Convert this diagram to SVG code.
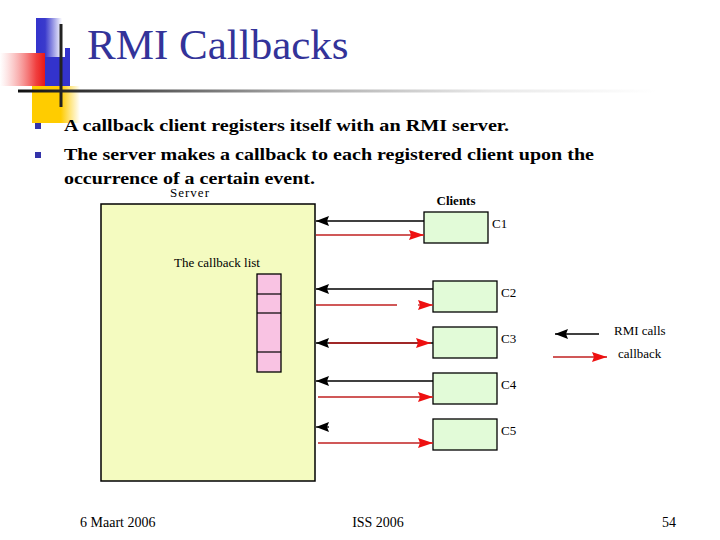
<svg xmlns="http://www.w3.org/2000/svg" width="720" height="540" viewBox="0 0 720 540">
<style>
.ser{font-family:"Liberation Serif","Times New Roman",serif;}
.title{font-size:43px;fill:#333399;}
.bul{font-size:17px;font-weight:bold;fill:#000;}
.lbl{font-size:13px;fill:#000;}
.foot{font-size:14px;fill:#000;}
.blk{stroke:#000;stroke-width:1.3;fill:none;}
.red{stroke:#c02020;stroke-width:1.3;fill:none;}
.client{fill:#E2FBD8;stroke:#000;stroke-width:1.3;}
</style>
<defs>
<linearGradient id="gBlue" x1="0" y1="0" x2="1" y2="0"><stop offset="0" stop-color="#3333cc"/><stop offset="0.35" stop-color="#3a3acc"/><stop offset="1" stop-color="#ffffff"/></linearGradient>
<linearGradient id="gRed" x1="0" y1="0" x2="1" y2="0"><stop offset="0" stop-color="#ffffff" stop-opacity="0.6"/><stop offset="0.8" stop-color="#f04040"/><stop offset="1" stop-color="#e81818"/></linearGradient>
<linearGradient id="gYel" x1="0" y1="0" x2="1" y2="0"><stop offset="0" stop-color="#ffcc00"/><stop offset="0.6" stop-color="#ffcc00"/><stop offset="1" stop-color="#ffffff"/></linearGradient>
<linearGradient id="gLine" gradientUnits="userSpaceOnUse" x1="18" y1="0" x2="690" y2="0"><stop offset="0" stop-color="#111"/><stop offset="0.15" stop-color="#444"/><stop offset="0.42" stop-color="#aaa"/><stop offset="0.7" stop-color="#e8e8e8"/><stop offset="0.95" stop-color="#fff"/></linearGradient>
<marker id="ahB" markerUnits="userSpaceOnUse" markerWidth="14" markerHeight="10" refX="13" refY="5" orient="auto"><path d="M0,0 L13,5 L0,10 L2,5 z" fill="#000"/></marker>
<marker id="ahR" markerUnits="userSpaceOnUse" markerWidth="16" markerHeight="10" refX="15" refY="5" orient="auto"><path d="M0,0 L15,5 L0,10 L2,5 z" fill="#ee1010"/></marker>
</defs>

<g id="decoration">
<rect x="36" y="18" width="26" height="39" fill="url(#gBlue)"/>
<rect x="45" y="57" width="25" height="29" fill="#3333cc"/>
<rect x="65" y="48" width="5" height="9" fill="#3333cc"/>
<rect x="0" y="53" width="45" height="33" fill="url(#gRed)"/>
<rect x="32" y="86" width="48" height="37" fill="url(#gYel)"/>
<line x1="61" y1="24" x2="61" y2="107" stroke="#222" stroke-width="3"/>
<line x1="18" y1="91" x2="690" y2="91" stroke="url(#gLine)" stroke-width="3"/>
</g>

<text id="title" class="ser title" x="87" y="59">RMI Callbacks</text>

<g id="bullets">
<rect x="35" y="123" width="6" height="6" fill="#3333aa"/>
<rect x="35" y="152" width="6" height="6" fill="#3333aa"/>
<text class="ser bul" x="64" y="131" textLength="445" lengthAdjust="spacingAndGlyphs">A callback client registers itself with an RMI server.</text>
<text class="ser bul" x="64" y="160" textLength="530" lengthAdjust="spacingAndGlyphs">The server makes a callback to each registered client upon the</text>
<text class="ser bul" x="64" y="184" textLength="251" lengthAdjust="spacingAndGlyphs">occurrence of a certain event.</text>
</g>

<g id="server">
<text class="ser lbl" x="190" y="197" text-anchor="middle" letter-spacing="1">Server</text>
<rect x="101" y="204" width="214" height="277" fill="#F4FBC0" stroke="#000" stroke-width="1.5"/>
<text class="ser lbl" x="217" y="267" text-anchor="middle">The callback list</text>
</g>

<g id="callback-list">
<rect x="257" y="274" width="24" height="98" fill="#F9C3E3" stroke="#000" stroke-width="1.3"/>
<line x1="257" y1="294" x2="281" y2="294" stroke="#000" stroke-width="1.2"/>
<line x1="257" y1="313" x2="281" y2="313" stroke="#000" stroke-width="1.2"/>
<line x1="257" y1="352" x2="281" y2="352" stroke="#000" stroke-width="1.2"/>
</g>

<text id="clients-label" class="ser lbl" x="456" y="205" text-anchor="middle" font-weight="bold">Clients</text>

<g id="c1"><rect class="client" x="424" y="212" width="64" height="31"/><text class="ser lbl" x="492" y="228">C1</text></g>
<g id="c2"><rect class="client" x="433" y="281" width="64" height="31"/><text class="ser lbl" x="501" y="297">C2</text></g>
<g id="c3"><rect class="client" x="433" y="327" width="64" height="31"/><text class="ser lbl" x="501" y="343">C3</text></g>
<g id="c4"><rect class="client" x="433" y="373" width="64" height="31"/><text class="ser lbl" x="501" y="389">C4</text></g>
<g id="c5"><rect class="client" x="433" y="419" width="64" height="31"/><text class="ser lbl" x="501" y="435">C5</text></g>

<g id="connectors">
<line class="blk" x1="424" y1="221" x2="316" y2="221" marker-end="url(#ahB)"/>
<line class="red" x1="316" y1="235" x2="424" y2="235" marker-end="url(#ahR)"/>
<line class="blk" x1="433" y1="289" x2="316" y2="289" marker-end="url(#ahB)"/>
<line class="red" x1="316" y1="305" x2="397" y2="305"/>
<line class="red" x1="418" y1="305" x2="433" y2="305" marker-end="url(#ahR)"/>
<line class="blk" x1="433" y1="343" x2="316" y2="343" marker-end="url(#ahB)"/>
<line class="red" x1="329" y1="343" x2="431" y2="343" marker-end="url(#ahR)"/>
<line class="blk" x1="433" y1="381" x2="316" y2="381" marker-end="url(#ahB)"/>
<line class="red" x1="318" y1="397" x2="433" y2="397" marker-end="url(#ahR)"/>
<line class="blk" x1="329" y1="427" x2="316" y2="427" marker-end="url(#ahB)"/>
<line class="red" x1="318" y1="443" x2="433" y2="443" marker-end="url(#ahR)"/>
</g>

<g id="legend">
<line class="blk" x1="599" y1="334" x2="555" y2="334" marker-end="url(#ahB)"/>
<text class="ser lbl" x="614" y="335">RMI calls</text>
<line class="red" x1="553" y1="357" x2="607" y2="357" marker-end="url(#ahR)"/>
<text class="ser lbl" x="618" y="358">callback</text>
</g>

<g id="footer">
<text class="ser foot" x="80" y="527">6 Maart 2006</text>
<text class="ser foot" x="378" y="527" text-anchor="middle">ISS 2006</text>
<text class="ser foot" x="676" y="527" text-anchor="end">54</text>
</g>
</svg>
